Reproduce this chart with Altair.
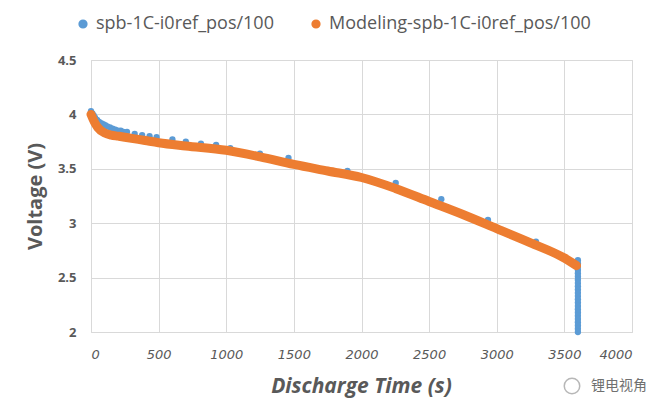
import altair as alt
import pandas as pd

# Experimental data (blue points)
exp_time = [0, 10, 20, 30, 45, 60, 75, 90, 105, 120, 140, 160, 180, 200, 220, 240,
            266, 323, 378, 433, 485, 602, 701, 813, 925, 1030, 1249, 1460, 1896,
            2253, 2590, 2935, 3290, 3590,
            3600, 3600, 3600, 3600, 3600, 3600, 3600, 3600, 3600, 3600, 3600, 3600,
            3600, 3600, 3600, 3600, 3600, 3600, 3600, 3600, 3600, 3600, 3600]
exp_volt = [4.03, 4.01, 3.99, 3.97, 3.95, 3.93, 3.92, 3.91, 3.90, 3.89, 3.88, 3.87,
            3.86, 3.85, 3.85, 3.84, 3.84, 3.82, 3.81, 3.80, 3.79, 3.77, 3.75, 3.73,
            3.72, 3.69, 3.64, 3.60, 3.48, 3.37, 3.22, 3.03, 2.83, 2.64,
            2.66, 2.63, 2.60, 2.57, 2.54, 2.51, 2.48, 2.45, 2.42, 2.39, 2.36, 2.33,
            2.30, 2.27, 2.24, 2.21, 2.18, 2.15, 2.12, 2.09, 2.06, 2.03, 2.00]

# Model data (orange line)
mod_time = [0, 25, 50, 100, 150, 200, 250, 300, 400, 500, 700, 1000, 1250, 1500,
            1750, 2000, 2250, 2500, 2750, 3000, 3250, 3500, 3590]
mod_volt = [4.00, 3.93, 3.88, 3.83, 3.81, 3.80, 3.79, 3.78, 3.76, 3.74, 3.71, 3.67,
            3.61, 3.54, 3.48, 3.42, 3.32, 3.20, 3.08, 2.95, 2.82, 2.68, 2.61]

series_names = ["spb-1C-i0ref_pos/100", "Modeling-spb-1C-i0ref_pos/100"]
series_colors = ["#5B9BD5", "#ED7D31"]

y_ticks = [2, 2.5, 3, 3.5, 4, 4.5]
x_ticks = [0, 500, 1000, 1500, 2000, 2500, 3000, 3500, 4000]

exp_df = pd.DataFrame({"t": exp_time, "v": exp_volt, "series": series_names[0]})
mod_df = pd.DataFrame({"t": mod_time, "v": mod_volt, "series": series_names[1]})

color_scale = alt.Scale(domain=series_names, range=series_colors)

x_enc = alt.X("t:Q", scale=alt.Scale(domain=[0, 4000], nice=False),
              axis=alt.Axis(values=x_ticks, format="d", title="Discharge Time (s)",
                            grid=True, gridColor="#D9D9D9", domain=False, ticks=False,
                            labelFontStyle="italic", labelFontSize=13, labelFont="DejaVu Sans",
                            labelColor="#595959", labelPadding=16,
                            titleFont="Open Sans", titleFontSize=21, titleFontStyle="italic",
                            titleFontWeight="bold", titleColor="#595959",
                            titleX=270, titleY=54, titleBaseline="middle", titleAlign="center"))
y_enc = alt.Y("v:Q", scale=alt.Scale(domain=[2, 4.5], nice=False),
              axis=alt.Axis(values=y_ticks, format="~g", title="Voltage (V)",
                            grid=True, gridColor="#D9D9D9", domain=False, ticks=False,
                            labelFontSize=13, labelFontWeight="bold", labelFont="Open Sans",
                            labelColor="#595959", labelPadding=15,
                            titleFont="Open Sans", titleFontSize=20, titleFontWeight="bold",
                            titleColor="#595959", titleAngle=-90,
                            titleX=-56, titleY=136, titleBaseline="middle", titleAlign="center"))

points = alt.Chart(exp_df).mark_circle(size=40, opacity=1).encode(
    x=x_enc, y=y_enc,
    color=alt.Color("series:N", scale=color_scale,
                    legend=alt.Legend(title=None, orient="none", direction="horizontal",
                                      legendX=-17, legendY=-45, symbolType="circle",
                                      symbolSize=60, labelFont="Open Sans", labelFontSize=18,
                                      labelColor="#595959", columnPadding=33, labelOffset=4,
                                      labelLimit=500)),
)

line = alt.Chart(mod_df).mark_line(strokeWidth=9, strokeCap="round", strokeJoin="round",
                                   interpolate="monotone").encode(
    x="t:Q", y="v:Q",
    color=alt.Color("series:N", scale=color_scale, legend=None),
)

wm = pd.DataFrame({"label": ["锂电视角"]})
watermark = alt.Chart(wm).mark_text(font="Noto Sans CJK SC", fontSize=14, color="#707070",
                                    align="left", baseline="middle").encode(
    x=alt.value(500), y=alt.value(326), text="label:N")
icon = alt.Chart(wm).mark_point(shape="circle", size=240, color="#9a9a9a", strokeWidth=1.5,
                                filled=False).encode(x=alt.value(481), y=alt.value(326))

chart = alt.layer(points, line, icon, watermark).properties(
    width=541, height=272,
    autosize=alt.AutoSizeParams(type="none"),
    padding={"left": 83, "top": 52, "right": 23, "bottom": 74},
    background="white",
).configure_view(stroke="#D9D9D9")

chart.save("out.html", embed_options={"renderer": "svg", "actions": False})
